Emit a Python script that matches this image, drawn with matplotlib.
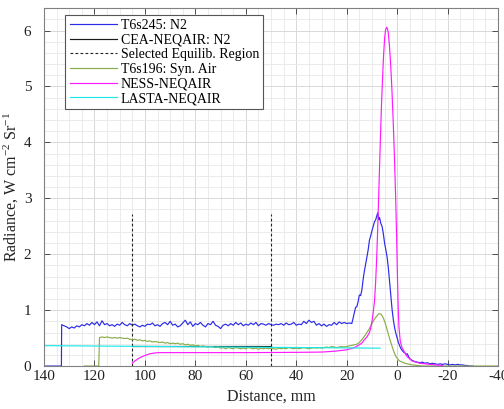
import numpy as np
import matplotlib
matplotlib.use("Agg")
import matplotlib.pyplot as plt
from matplotlib.ticker import MultipleLocator

plt.rcParams["font.family"] = ["Liberation Serif", "DejaVu Serif"]
plt.rcParams["mathtext.default"] = "regular"
plt.rcParams["axes.unicode_minus"] = False

# ---- T6s245: N2 (measured) ----
t6s245_plateau_x = np.arange(132, 17, -1)
t6s245_plateau_y = [
    0.72, 0.70, 0.67, 0.70, 0.68, 0.72, 0.70, 0.74, 0.72, 0.76,
    0.73, 0.78, 0.74, 0.79, 0.72, 0.81, 0.74, 0.76, 0.72, 0.74,
    0.71, 0.75, 0.73, 0.78, 0.74, 0.72, 0.76, 0.73, 0.75, 0.72,
    0.70, 0.73, 0.71, 0.75, 0.74, 0.77, 0.72, 0.74, 0.71, 0.76,
    0.78, 0.74, 0.80, 0.73, 0.75, 0.70, 0.72, 0.77, 0.82, 0.74,
    0.79, 0.71, 0.76, 0.74, 0.78, 0.73, 0.70, 0.76, 0.74, 0.80,
    0.73, 0.71, 0.67, 0.73, 0.75, 0.72, 0.76, 0.73, 0.78, 0.74,
    0.77, 0.72, 0.75, 0.73, 0.77, 0.74, 0.78, 0.72, 0.76, 0.75,
    0.73, 0.76, 0.74, 0.73, 0.75, 0.74, 0.76, 0.73, 0.77, 0.74,
    0.75, 0.78, 0.73, 0.75, 0.74, 0.80, 0.76, 0.82, 0.78, 0.80,
    0.73, 0.76, 0.72, 0.75, 0.71, 0.74, 0.73, 0.78, 0.74, 0.79,
    0.76, 0.78, 0.76, 0.77, 0.76,
]
t6s245_peak_x = [
    17.5, 17, 16.5, 16, 15.5, 15, 14.5, 14, 13.5, 13, 12.5, 12, 11.5, 11,
    10.5, 10, 9.5, 9, 8.5, 8, 7.7, 7.3, 7, 6.5, 6, 5.5, 5, 4.5, 4, 3.5, 3,
    2.5, 2, 1.5, 1, 0.5, 0, -0.5, -1, -1.5, -2, -2.5, -3, -3.5, -4, -4.5,
    -5, -6, -7, -8, -9, -10, -11, -12, -13, -14, -15, -16, -17, -18, -19,
    -20, -21, -22, -23, -24, -25, -26, -27, -28, -28.2, -30,
]
t6s245_peak_y = [
    0.85, 0.95, 1.05, 1.06, 1.15, 1.27, 1.26, 1.36, 1.55, 1.70, 1.82, 1.95,
    2.08, 2.25, 2.33, 2.42, 2.50, 2.58, 2.62, 2.70, 2.74, 2.62, 2.66, 2.55,
    2.50, 2.37, 2.20, 2.08, 1.95, 1.75, 1.50, 1.25, 1.00, 0.82, 0.68, 0.58,
    0.50, 0.42, 0.36, 0.31, 0.28, 0.25, 0.24, 0.21, 0.22, 0.17, 0.13, 0.10,
    0.08, 0.07, 0.06, 0.07, 0.05, 0.06, 0.04, 0.05, 0.04, 0.03, 0.04, 0.03,
    0.04, 0.03, 0.02, 0.03, 0.02, 0.03, 0.02, 0.02, 0.01, 0.01, 0.0, 0.0,
]
t6s245_x = [140, 133.1, 133] + list(t6s245_plateau_x) + t6s245_peak_x
t6s245_y = [0.0, 0.0, 0.74] + list(t6s245_plateau_y) + t6s245_peak_y

# ---- CEA-NEQAIR: N2 ----
cea_x = [105, 50]
cea_y = [0.355, 0.355]

# ---- Selected equilibrium region bounds ----
region_x = [105, 50]
region_top = 2.72

# ---- T6s196: Syn. Air (measured) ----
t6s196_plateau_x = np.arange(117, 17, -1)
t6s196_plateau_y = [
    0.52, 0.51, 0.52, 0.51, 0.50, 0.51, 0.50, 0.51, 0.50, 0.49,
    0.50, 0.48, 0.47, 0.48, 0.46, 0.47, 0.45, 0.46, 0.44, 0.45,
    0.43, 0.44, 0.43, 0.42, 0.43, 0.41, 0.42, 0.40, 0.41, 0.40,
    0.41, 0.39, 0.40, 0.38, 0.39, 0.37, 0.38, 0.36, 0.37, 0.35,
    0.36, 0.35, 0.34, 0.35, 0.34, 0.33, 0.34, 0.32, 0.33, 0.31,
    0.33, 0.32, 0.31, 0.33, 0.32, 0.31, 0.32, 0.31, 0.33, 0.32,
    0.31, 0.32, 0.30, 0.32, 0.31, 0.32, 0.31, 0.32, 0.31, 0.30,
    0.32, 0.31, 0.32, 0.31, 0.33, 0.32, 0.31, 0.32, 0.31, 0.32,
    0.33, 0.32, 0.31, 0.32, 0.33, 0.32, 0.33, 0.32, 0.33, 0.34,
    0.33, 0.35, 0.34, 0.33, 0.34, 0.35, 0.34, 0.35, 0.36, 0.37,
]
t6s196_peak_x = [
    17, 16, 15, 14, 13, 12, 11, 10, 9, 8, 7.2, 6.5, 6, 5.5, 5, 4.5, 4, 3.5,
    3, 2.5, 2, 1.5, 1, 0.5, 0, -0.5, -1, -2, -3, -4, -6, -8, -10, -40,
]
t6s196_peak_y = [
    0.38, 0.39, 0.42, 0.47, 0.53, 0.60, 0.67, 0.76, 0.84, 0.90, 0.94, 0.93,
    0.90, 0.86, 0.80, 0.73, 0.65, 0.57, 0.49, 0.42, 0.35, 0.28, 0.22, 0.17,
    0.14, 0.11, 0.09, 0.07, 0.05, 0.04, 0.02, 0.01, 0.0, 0.0,
]
t6s196_x = [124, 118.3, 118] + list(t6s196_plateau_x) + t6s196_peak_x
t6s196_y = [0.0, 0.0, 0.51] + list(t6s196_plateau_y) + t6s196_peak_y

# ---- NESS-NEQAIR ----
ness_x = [
    105, 104, 103, 102, 100, 98, 96, 94, 80, 60, 40, 30, 25, 20, 17, 15, 14,
    13, 12, 11, 10.5, 10, 9.5, 9, 8.6, 8.2, 7.8, 7.4, 7.0, 6.6, 6.2, 5.8,
    5.4, 5.0, 4.6, 4.1, 3.6, 3.1, 2.6, 2.1, 1.6, 1.1, 0.6, 0.2, -0.1, -0.4,
    -0.7, -1.2, -1.9, -3.0, -3.9, -6, -9, -13, -18,
]
ness_y = [
    0.05, 0.09, 0.12, 0.15, 0.19, 0.22, 0.235, 0.24, 0.24, 0.24, 0.245,
    0.25, 0.265, 0.29, 0.33, 0.38, 0.41, 0.47, 0.52, 0.60, 0.68, 0.80, 0.96,
    1.16, 1.45, 1.85, 2.35, 2.95, 3.55, 4.15, 4.70, 5.15, 5.55, 5.85, 6.02,
    6.06, 5.98, 5.75, 5.40, 4.95, 4.40, 3.75, 3.00, 2.25, 1.60, 1.05, 0.70,
    0.45, 0.33, 0.24, 0.17, 0.09, 0.05, 0.03, 0.01,
]

# ---- LASTA-NEQAIR ----
lasta_x = [140, 6.8]
lasta_y = [0.365, 0.32]

fig = plt.figure(figsize=(5.04, 4.09), dpi=100)
ax = fig.add_axes([0.0873, 0.105, 0.901, 0.875])

lw = 0.85
ax.plot(t6s245_x, t6s245_y, color="#2b2bea", lw=lw, label="T6s245: N2")
ax.plot(cea_x, cea_y, color="#1a1a1a", lw=lw, label="CEA-NEQAIR: N2")
for i, xv in enumerate(region_x):
    ax.plot([xv, xv], [0, region_top], color="#222222", lw=0.8,
            ls=(0, (2.5, 2)),
            label="Selected Equilib. Region" if i == 0 else None)
ax.plot(t6s196_x, t6s196_y, color="#8aac4a", lw=lw, label="T6s196: Syn. Air")
ax.plot(ness_x, ness_y, color="#ff1aff", lw=lw, label="NESS-NEQAIR")
ax.plot(lasta_x, lasta_y, color="#1ae8e8", lw=lw, label="LASTA-NEQAIR")

ax.set_xlim(140, -40)
ax.set_ylim(0, 6.4)
ax.xaxis.set_major_locator(MultipleLocator(20))
ax.xaxis.set_minor_locator(MultipleLocator(5))
ax.yaxis.set_major_locator(MultipleLocator(1))
ax.yaxis.set_minor_locator(MultipleLocator(0.2))

ax.grid(which="major", color="#d8d8d8", lw=0.7)
ax.grid(which="minor", color="#e8e8e8", lw=0.6)
ax.set_axisbelow(True)

ax.tick_params(which="both", direction="in", top=True, right=True,
               colors="#4d4d4d", labelcolor="#222222", labelsize=11)
ax.tick_params(which="major", length=4, width=0.7)
ax.tick_params(which="minor", length=0)
ax.tick_params(axis="y", pad=9)
ax.tick_params(axis="x", pad=3)
for sp in ax.spines.values():
    sp.set_color("#808080")
    sp.set_linewidth(0.8)

ax.set_xlabel("Distance, mm", fontsize=11.5, color="#222222", labelpad=4)
ax.set_ylabel("Radiance, W cm$^{-2}$ Sr$^{-1}$", fontsize=11.5,
              color="#222222", labelpad=2)

leg = ax.legend(loc="upper left", bbox_to_anchor=(0.047, 0.982),
                fontsize=10, frameon=True, fancybox=False, framealpha=1,
                edgecolor="#555555", handlelength=3.4, handletextpad=0.3,
                labelspacing=0.12, borderpad=0.3, borderaxespad=0.0)
leg.get_frame().set_linewidth(0.8)

fig.savefig("out.png", dpi=100)
